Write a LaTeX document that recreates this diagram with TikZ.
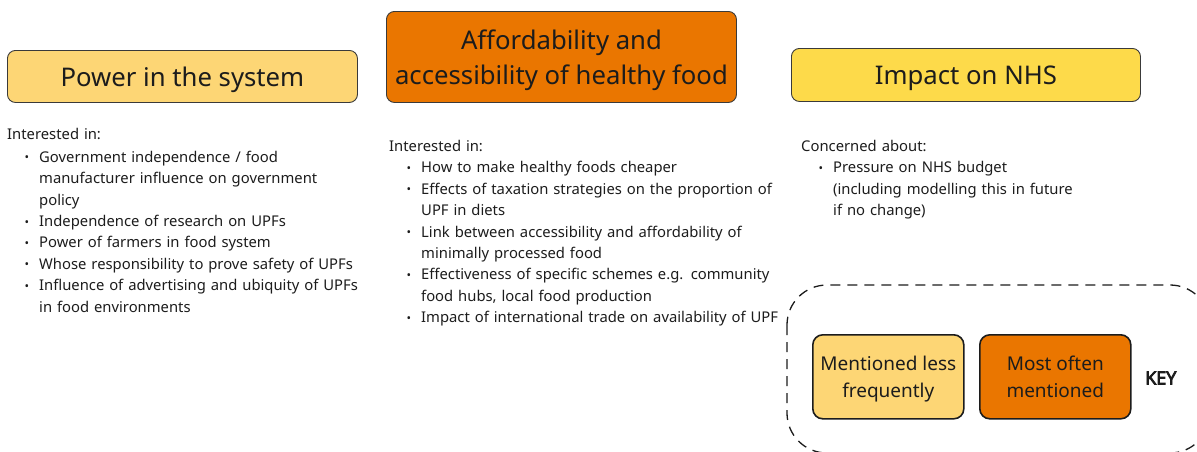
\documentclass[tikz,border=0pt]{standalone}
\usepackage{fontspec}
\setmainfont{Noto Sans}
\newfontfamily\keyfont{Open Sans}[FakeBold=4.5]
\usepackage{enumitem}
\definecolor{softamber}{HTML}{FDD675}
\definecolor{deeporange}{HTML}{EA7600}
\definecolor{sunyellow}{HTML}{FDDA4A}
\definecolor{inkgray}{HTML}{1C1C1C}
\definecolor{edgegray}{HTML}{3A3A3A}
\setlist[itemize]{leftmargin=32pt,labelsep=10pt,itemsep=0pt,topsep=0pt,parsep=0pt,partopsep=0pt,
  label={\raisebox{0.5pt}{\fontsize{12}{12}\selectfont\textbullet}}}
\begin{document}
\begin{tikzpicture}[x=1pt,y=-1pt,
  theme/.style={draw=edgegray,line width=0.9pt,rounded corners=8pt,text=inkgray,
    font=\fontsize{25.7}{35}\selectfont,align=center,inner sep=0pt,anchor=north west,
    text depth=0pt},
  textcol/.style={anchor=north west,inner sep=0pt,text=inkgray,text width=#1,
    font=\fontsize{14.8}{21.4}\selectfont,align=left},
  keybox/.style={draw=inkgray,line width=1.6pt,rounded corners=10pt,text=inkgray,
    font=\fontsize{19}{27}\selectfont,align=center,inner sep=0pt,anchor=north west,
    minimum width=151pt,minimum height=84pt,text depth=1pt}]
\useasboundingbox (0,0) rectangle (1197,451);

% theme headers
\node[theme,fill=softamber,minimum width=350pt,minimum height=52pt] (power) at (7,50)
  {Power in the system};
\node[theme,fill=deeporange,minimum width=350pt,minimum height=91pt] (afford) at (386,11)
  {Affordability and\\accessibility of healthy food};
\node[theme,fill=sunyellow,minimum width=349pt,minimum height=53pt] (nhs) at (791,48)
  {Impact on NHS};

% interest lists
\node[textcol=370pt] (powtext) at (7,128) {Interested in:\par\vspace{1.5pt}
\begin{itemize}
\item Government independence / food\\manufacturer influence on government\\policy
\item Independence of research on UPFs
\item Power of farmers in food system
\item Whose responsibility to prove safety of UPFs
\item Influence of advertising and ubiquity of UPFs\\in food environments
\end{itemize}};
\node[textcol=390pt] (afftext) at (389,140) {Interested in:
\begin{itemize}
\item How to make healthy foods cheaper
\item Effects of taxation strategies on the proportion of\\UPF in diets
\item Link between accessibility and affordability of\\minimally processed food
\item Effectiveness of specific schemes e.g. community\\food hubs, local food production
\item Impact of international trade on availability of UPF
\end{itemize}};
\node[textcol=300pt] (nhstext) at (801,140) {Concerned about:
\begin{itemize}
\item Pressure on NHS budget\\(including modelling this in future\\if no change)
\end{itemize}};

% key
\draw[inkgray,line width=1.3pt,dash pattern=on 10pt off 7pt,rounded corners=40pt]
  (787,285) rectangle (1210,453);
\node[keybox,fill=softamber] (less) at (812,334) {Mentioned less\\frequently};
\node[keybox,fill=deeporange] (most) at (979,334) {Most often\\mentioned};
\node[text=inkgray,font=\fontsize{18}{20}\keyfont,anchor=west,inner sep=0pt]
  (keylabel) at (1145,378) {KEY};
\end{tikzpicture}
\end{document}
